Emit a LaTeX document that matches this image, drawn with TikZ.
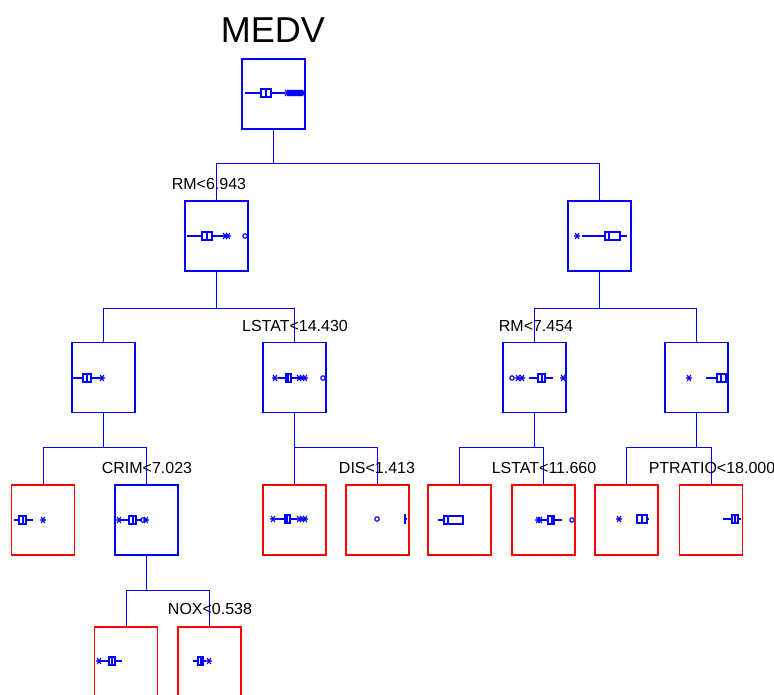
\documentclass[tikz,border=0pt]{standalone}
\usepackage{fontspec}
\setmainfont{Liberation Sans}
\usetikzlibrary{positioning,calc}
\definecolor{treeBlue}{RGB}{0,0,255}
\definecolor{treeRed}{RGB}{255,0,0}
\newcommand{\bxp}[6]{\draw[bplot] (#2,#1) -- (#3,#1) (#5,#1) -- (#6,#1);
\draw[bplot] (#3,#1-4) rectangle (#5,#1+4) (#4,#1-4) -- (#4,#1+4);}
\newcommand{\outstar}[2]{\draw[bplot] (#1-3,#2) -- (#1+3,#2) (#1-1.8,#2-3) -- (#1+1.8,#2+3) (#1-1.8,#2+3) -- (#1+1.8,#2-3);}
\newcommand{\outcirc}[2]{\draw[bplot] (#1,#2) circle[radius=2.2];}

\begin{document}
\begin{tikzpicture}[x=0.75pt,y=-0.75pt,
split/.style={draw=treeBlue,line width=1.05pt,minimum width=47.25pt,minimum height=52.5pt,inner sep=0pt},
leaf/.style={split,draw=treeRed},
edge/.style={treeBlue,line width=0.75pt},
bplot/.style={treeBlue,line width=0.85pt},
lbl/.style={anchor=base,inner sep=0pt,font=\fontsize{12}{14}\selectfont}]
\useasboundingbox (0,0) rectangle (774,694);
\clip (0,0) rectangle (774,694);
\node[lbl,font=\fontsize{27}{30}\selectfont] (title) at (273,42) {MEDV};
\node[split] (root) at (273.5,94) {};
\node[split] (nl) at (216.5,236) {};
\node[split] (nr) at (599.5,236) {};
\node[split] (na) at (103.5,377.5) {};
\node[split] (nb) at (294.5,377.5) {};
\node[split] (nc) at (534.5,377.5) {};
\node[split] (nd) at (696.5,377.5) {};
\node[leaf] (na1) at (43,520) {};
\node[split] (na2) at (146.5,520) {};
\node[leaf] (nb1) at (294.5,520) {};
\node[leaf] (nb2) at (377.5,520) {};
\node[leaf] (nc1) at (459.5,520) {};
\node[leaf] (nc2) at (543.5,520) {};
\node[leaf] (nd1) at (626.5,520) {};
\node[leaf] (nd2) at (711,520) {};
\node[leaf] (ne1) at (126,662) {};
\node[leaf] (ne2) at (209.5,662) {};
\foreach \p/\a/\b/\d in {root/nl/nr/34,nl/na/nb/37,nr/nc/nd/37,na/na1/na2/34,nb/nb1/nb2/34,nc/nc1/nc2/34,nd/nd1/nd2/34,na2/ne1/ne2/35}{
\draw[edge] (\a.north) |- ($(\p.south)+(0,\d)$) -| (\b.north);
\draw[edge] (\p.south) -- ++(0,\d);}
\node[lbl] (s1) at (209,189) {RM<6.943};
\node[lbl] (s2) at (295,331) {LSTAT<14.430};
\node[lbl] (s3) at (536,331) {RM<7.454};
\node[lbl] (s4) at (147,473) {CRIM<7.023};
\node[lbl] (s5) at (377,473) {DIS<1.413};
\node[lbl] (s6) at (544,473) {LSTAT<11.660};
\node[lbl] (s7) at (712,473) {PTRATIO<18.000};
\node[lbl] (s8) at (210,614) {NOX<0.538};
\bxp{93}{245}{261}{266}{271}{285}
\foreach \x in {287,289,...,303} {\outstar{\x}{93}}
\bxp{236}{187}{202}{207}{212}{223}
\foreach \x in {225,228} {\outstar{\x}{236}}
\outcirc{245}{236}
\outstar{577}{236}
\bxp{236}{582}{605}{609}{620}{627}
\bxp{378}{73}{83}{87}{91}{100}
\outstar{102}{378}
\outstar{275}{378}
\bxp{378}{278}{286}{288}{291}{298}
\foreach \x in {299,302,305} {\outstar{\x}{378}}
\outcirc{323}{378}
\outcirc{512}{378}
\outstar{518}{378}
\outstar{522}{378}
\bxp{378}{529}{538}{542}{545}{553}
\outstar{563}{378}
\outstar{689}{378}
\bxp{378}{706}{717}{721}{726}{727}
\bxp{520}{14}{19}{23}{26}{33}
\outstar{43}{520}
\outstar{119}{520}
\bxp{520}{120}{129}{133}{136}{142}
\outcirc{143}{520}
\outstar{146}{520}
\outstar{273}{519}
\bxp{519}{275}{285}{287}{290}{297}
\foreach \x in {299,302,305} {\outstar{\x}{519}}
\outcirc{377}{519}
\draw[bplot] (405,514) -- (405,524) (405,519) -- (407,519);
\bxp{520}{438}{444}{448}{463}{464}
\outstar{538}{520}
\outstar{540}{520}
\bxp{520}{540}{548}{552}{554}{562}
\outcirc{572}{520}
\outstar{619}{519}
\bxp{519}{637}{637}{642}{647}{649}
\bxp{519}{723}{732}{735}{738}{741}
\outstar{99}{661}
\bxp{661}{99}{109}{112}{115}{122}
\bxp{661}{193}{198}{201}{203}{206}
\outstar{209}{661}
\end{tikzpicture}
\end{document}
